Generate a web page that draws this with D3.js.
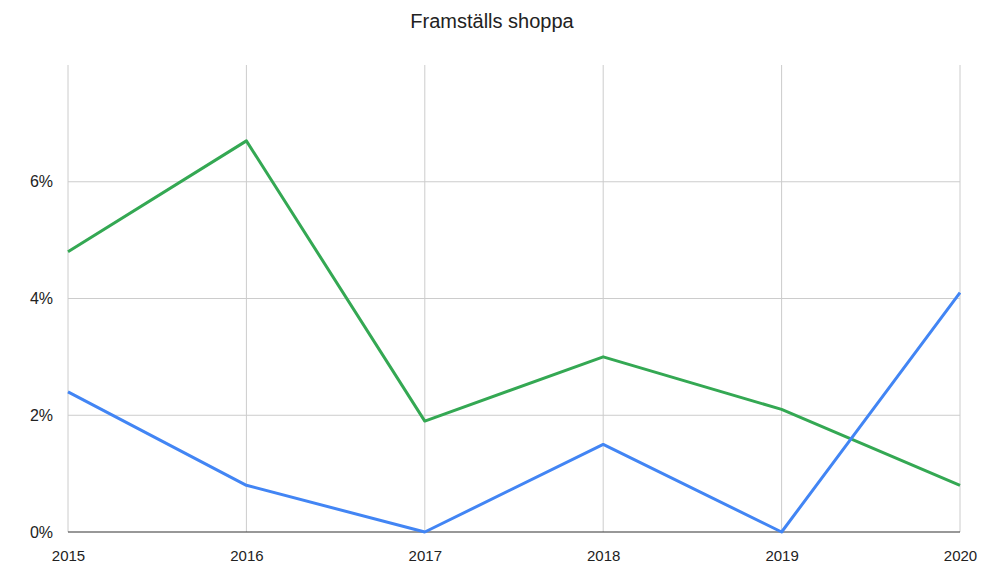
<!DOCTYPE html>
<html>
<head>
<meta charset="utf-8">
<script src="https://cdn.jsdelivr.net/npm/d3@7"></script>
<style>
  body { margin: 0; background: #fff; }
  svg text { font-family: "Liberation Sans", Arial, sans-serif; }
</style>
</head>
<body>
<svg id="chart" width="995" height="567"></svg>
<script>
// data
var years = ["2015", "2016", "2017", "2018", "2019", "2020"];
var greenSeries = [4.8, 6.7, 1.9, 3.0, 2.1, 0.8];
var blueSeries = [2.4, 0.8, 0.0, 1.5, 0.0, 4.1];
var yTicks = [0, 2, 4, 6];

var margin = {top: 65, right: 35, bottom: 35, left: 68},
    width = 995 - margin.left - margin.right,
    height = 567 - margin.top - margin.bottom;

var svg = d3.select("#chart");

// title
svg.append("text")
  .attr("x", 492)
  .attr("y", 28)
  .attr("text-anchor", "middle")
  .style("font-size", "20px")
  .style("fill", "#222")
  .text("Framställs shoppa");

var g = svg.append("g")
  .attr("transform", "translate(" + margin.left + "," + margin.top + ")");

var x = d3.scalePoint()
  .domain(years)
  .range([0, width]);

var y = d3.scaleLinear()
  .domain([0, 8])
  .range([height, 0]);

// horizontal grid
g.append("g")
  .selectAll("line")
  .data(yTicks.filter(function(d) { return d > 0; }))
  .enter()
  .append("line")
    .attr("x1", 0)
    .attr("x2", width)
    .attr("y1", function(d) { return y(d); })
    .attr("y2", function(d) { return y(d); })
    .style("stroke", "#cccccc")
    .style("stroke-width", 1);

// vertical grid
g.append("g")
  .selectAll("line")
  .data(years)
  .enter()
  .append("line")
    .attr("x1", function(d) { return x(d); })
    .attr("x2", function(d) { return x(d); })
    .attr("y1", 0)
    .attr("y2", height)
    .style("stroke", "#cccccc")
    .style("stroke-width", 1);

// baseline
g.append("line")
  .attr("x1", 0)
  .attr("x2", width)
  .attr("y1", y(0))
  .attr("y2", y(0))
  .style("stroke", "#333")
  .style("stroke-width", 1.2);

// y axis labels
var yAxis = g.append("g")
  .call(d3.axisLeft(y).tickValues(yTicks).tickSize(0).tickPadding(15)
    .tickFormat(function(d) { return d + "%"; }));
yAxis.select(".domain").remove();
yAxis.selectAll("text")
  .style("font-size", "16px")
  .style("fill", "#222")
  .style("font-family", "Liberation Sans, Arial, sans-serif");

// x axis labels
var xAxis = g.append("g")
  .attr("transform", "translate(0," + height + ")")
  .call(d3.axisBottom(x).tickSize(0).tickPadding(18));
xAxis.select(".domain").remove();
xAxis.selectAll("text")
  .style("font-size", "15px")
  .style("fill", "#222")
  .style("font-family", "Liberation Sans, Arial, sans-serif");

var line = d3.line()
  .x(function(d, i) { return x(years[i]); })
  .y(function(d) { return y(d); });

g.append("path")
  .datum(greenSeries)
  .attr("d", line)
  .style("fill", "none")
  .style("stroke", "#34a853")
  .style("stroke-width", 3)
  .style("stroke-linejoin", "round");

g.append("path")
  .datum(blueSeries)
  .attr("d", line)
  .style("fill", "none")
  .style("stroke", "#4285f4")
  .style("stroke-width", 3)
  .style("stroke-linejoin", "round");
</script>
</body>
</html>
